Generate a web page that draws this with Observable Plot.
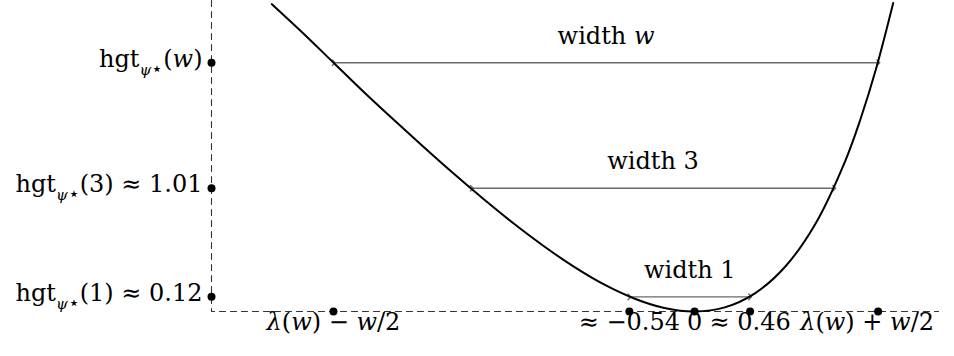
<!DOCTYPE html>
<html><head><meta charset="utf-8">
<script src="https://cdn.jsdelivr.net/npm/d3@7"></script>
<script src="https://cdn.jsdelivr.net/npm/@observablehq/plot@0.6"></script>
<style>html,body{margin:0;padding:0;background:#fff}</style>
</head><body><div id="chart"></div>
<script>
// Curve psi*
const curveX = [-3.5, -3.25, -3, -2.75, -2.5, -2.25, -2, -1.75, -1.5, -1.25, -1, -0.75, -0.5, -0.25, 0, 0.25, 0.5, 0.75, 1, 1.25, 1.375, 1.5, 1.645];
const curveY = [2.52, 2.29, 2.05, 1.81, 1.58, 1.355, 1.135, 0.924, 0.723, 0.537, 0.368, 0.222, 0.107, 0.029, 0, 0.034, 0.149, 0.367, 0.718, 1.24, 1.58, 1.98, 2.53];

// Marked points on the horizontal axis
const xMarkValues = [-2.99, -0.54, 0, 0.46, 1.52];
const xMarkLabels = ["*λ*(*w*) − *w*/2", "≈ −0.54", "0", "≈ 0.46", "*λ*(*w*) + *w*/2"];

// Marked points on the vertical axis
const yMarkValues = [2.04, 1.01, 0.12];
const yMarkLabels = ["hgt_{ψ⋆}(*w*)", "hgt_{ψ⋆}(3) ≈ 1.01", "hgt_{ψ⋆}(1) ≈ 0.12"];

// Width arrows
const spanWidths = [4.51, 3, 1];
const spanCenters = [-0.733, -0.344, -0.04];
const spanHeights = [2.04, 1.01, 0.12];
const spanLabels = ["width *w*", "width 3", "width 1"];

// Axis extents
const xDomain = [-4, 2.02];
const yDomain = [0, 2.55];

const FONT = "DejaVu Serif";
const FS = 24;

const curve = curveX.map((x, i) => ({x, y: curveY[i]}));
const xMarks = xMarkValues.map((x, i) => ({x, label: xMarkLabels[i]}));
const yMarks = yMarkValues.map((y, i) => ({y, label: yMarkLabels[i]}));
const spans = spanWidths.map((w, i) => ({
  x1: spanCenters[i] - w / 2, x2: spanCenters[i] + w / 2, c: spanCenters[i], y: spanHeights[i], label: spanLabels[i]
}));
const axisPath = [
  {x: xDomain[0], y: yDomain[1]},
  {x: xDomain[0], y: yDomain[0]},
  {x: xDomain[1], y: yDomain[0]}
];

const textOpts = {fontFamily: FONT, fontSize: FS, fill: "black", lineAnchor: "bottom"};

const svg = Plot.plot({
  width: 954, height: 356,
  marginLeft: 211, marginRight: 16, marginTop: 0, marginBottom: 45,
  x: {domain: xDomain, axis: null},
  y: {domain: yDomain, axis: null},
  style: {background: "#fff", overflow: "visible"},
  marks: [
    Plot.line(axisPath, {x: "x", y: "y", stroke: "#333", strokeWidth: 1.1, strokeDasharray: "6,5"}),
    Plot.link(spans, {x1: "x1", x2: "x2", y1: "y", y2: "y", stroke: "#6a6a6a", strokeWidth: 1.4, markerStart: "arrow", markerEnd: "arrow"}),
    Plot.line(curve, {x: "x", y: "y", stroke: "black", strokeWidth: 2, curve: "catmull-rom"}),
    Plot.dot(xMarks, {x: "x", y: () => yDomain[0], r: 4, fill: "black"}),
    Plot.dot(yMarks, {x: () => xDomain[0], y: "y", r: 4, fill: "black"}),
    Plot.text(xMarks.slice(0, 4), {x: "x", y: () => yDomain[0], text: "label", dy: 18, textAnchor: "middle", ...textOpts}),
    Plot.text(xMarks.slice(4), {x: "x", y: () => yDomain[0], text: "label", dy: 18, dx: -11, textAnchor: "middle", ...textOpts}),
    Plot.text(yMarks, {x: () => xDomain[0], y: "y", text: "label", dx: -9, dy: 4, textAnchor: "end", ...textOpts}),
    Plot.text(spans, {x: "c", y: "y", text: "label", dy: -19, textAnchor: "middle", ...textOpts})
  ]
});

// Rich text: *...* italic, _{..} subscript (first char) with small star after it
function rich(el) {
  const src = el.textContent;
  while (el.firstChild) el.removeChild(el.firstChild);
  const parts = src.split(/(\*[^*]+\*|_\{[^}]+\})/).filter(s => s);
  let pending = 0;
  const add = (txt, o) => {
    const t = document.createElementNS("http://www.w3.org/2000/svg", "tspan");
    t.textContent = txt;
    const dy = (o.dy || 0) + pending;
    pending = 0;
    if (dy) t.setAttribute("dy", dy);
    if (o.italic) t.setAttribute("font-style", "italic");
    if (o.size) t.setAttribute("font-size", o.size);
    el.appendChild(t);
  };
  for (const p of parts) {
    if (p.startsWith("*")) add(p.slice(1, -1), {italic: true});
    else if (p.startsWith("_{")) {
      const inner = p.slice(2, -1);
      add(inner[0], {italic: true, size: 15, dy: 8});
      add(inner.slice(1), {size: 19, dy: 0});
      pending = -8;
    } else add(p, {});
  }
}
svg.querySelectorAll("text").forEach(rich);

document.getElementById("chart").appendChild(svg);
</script>
</body></html>
